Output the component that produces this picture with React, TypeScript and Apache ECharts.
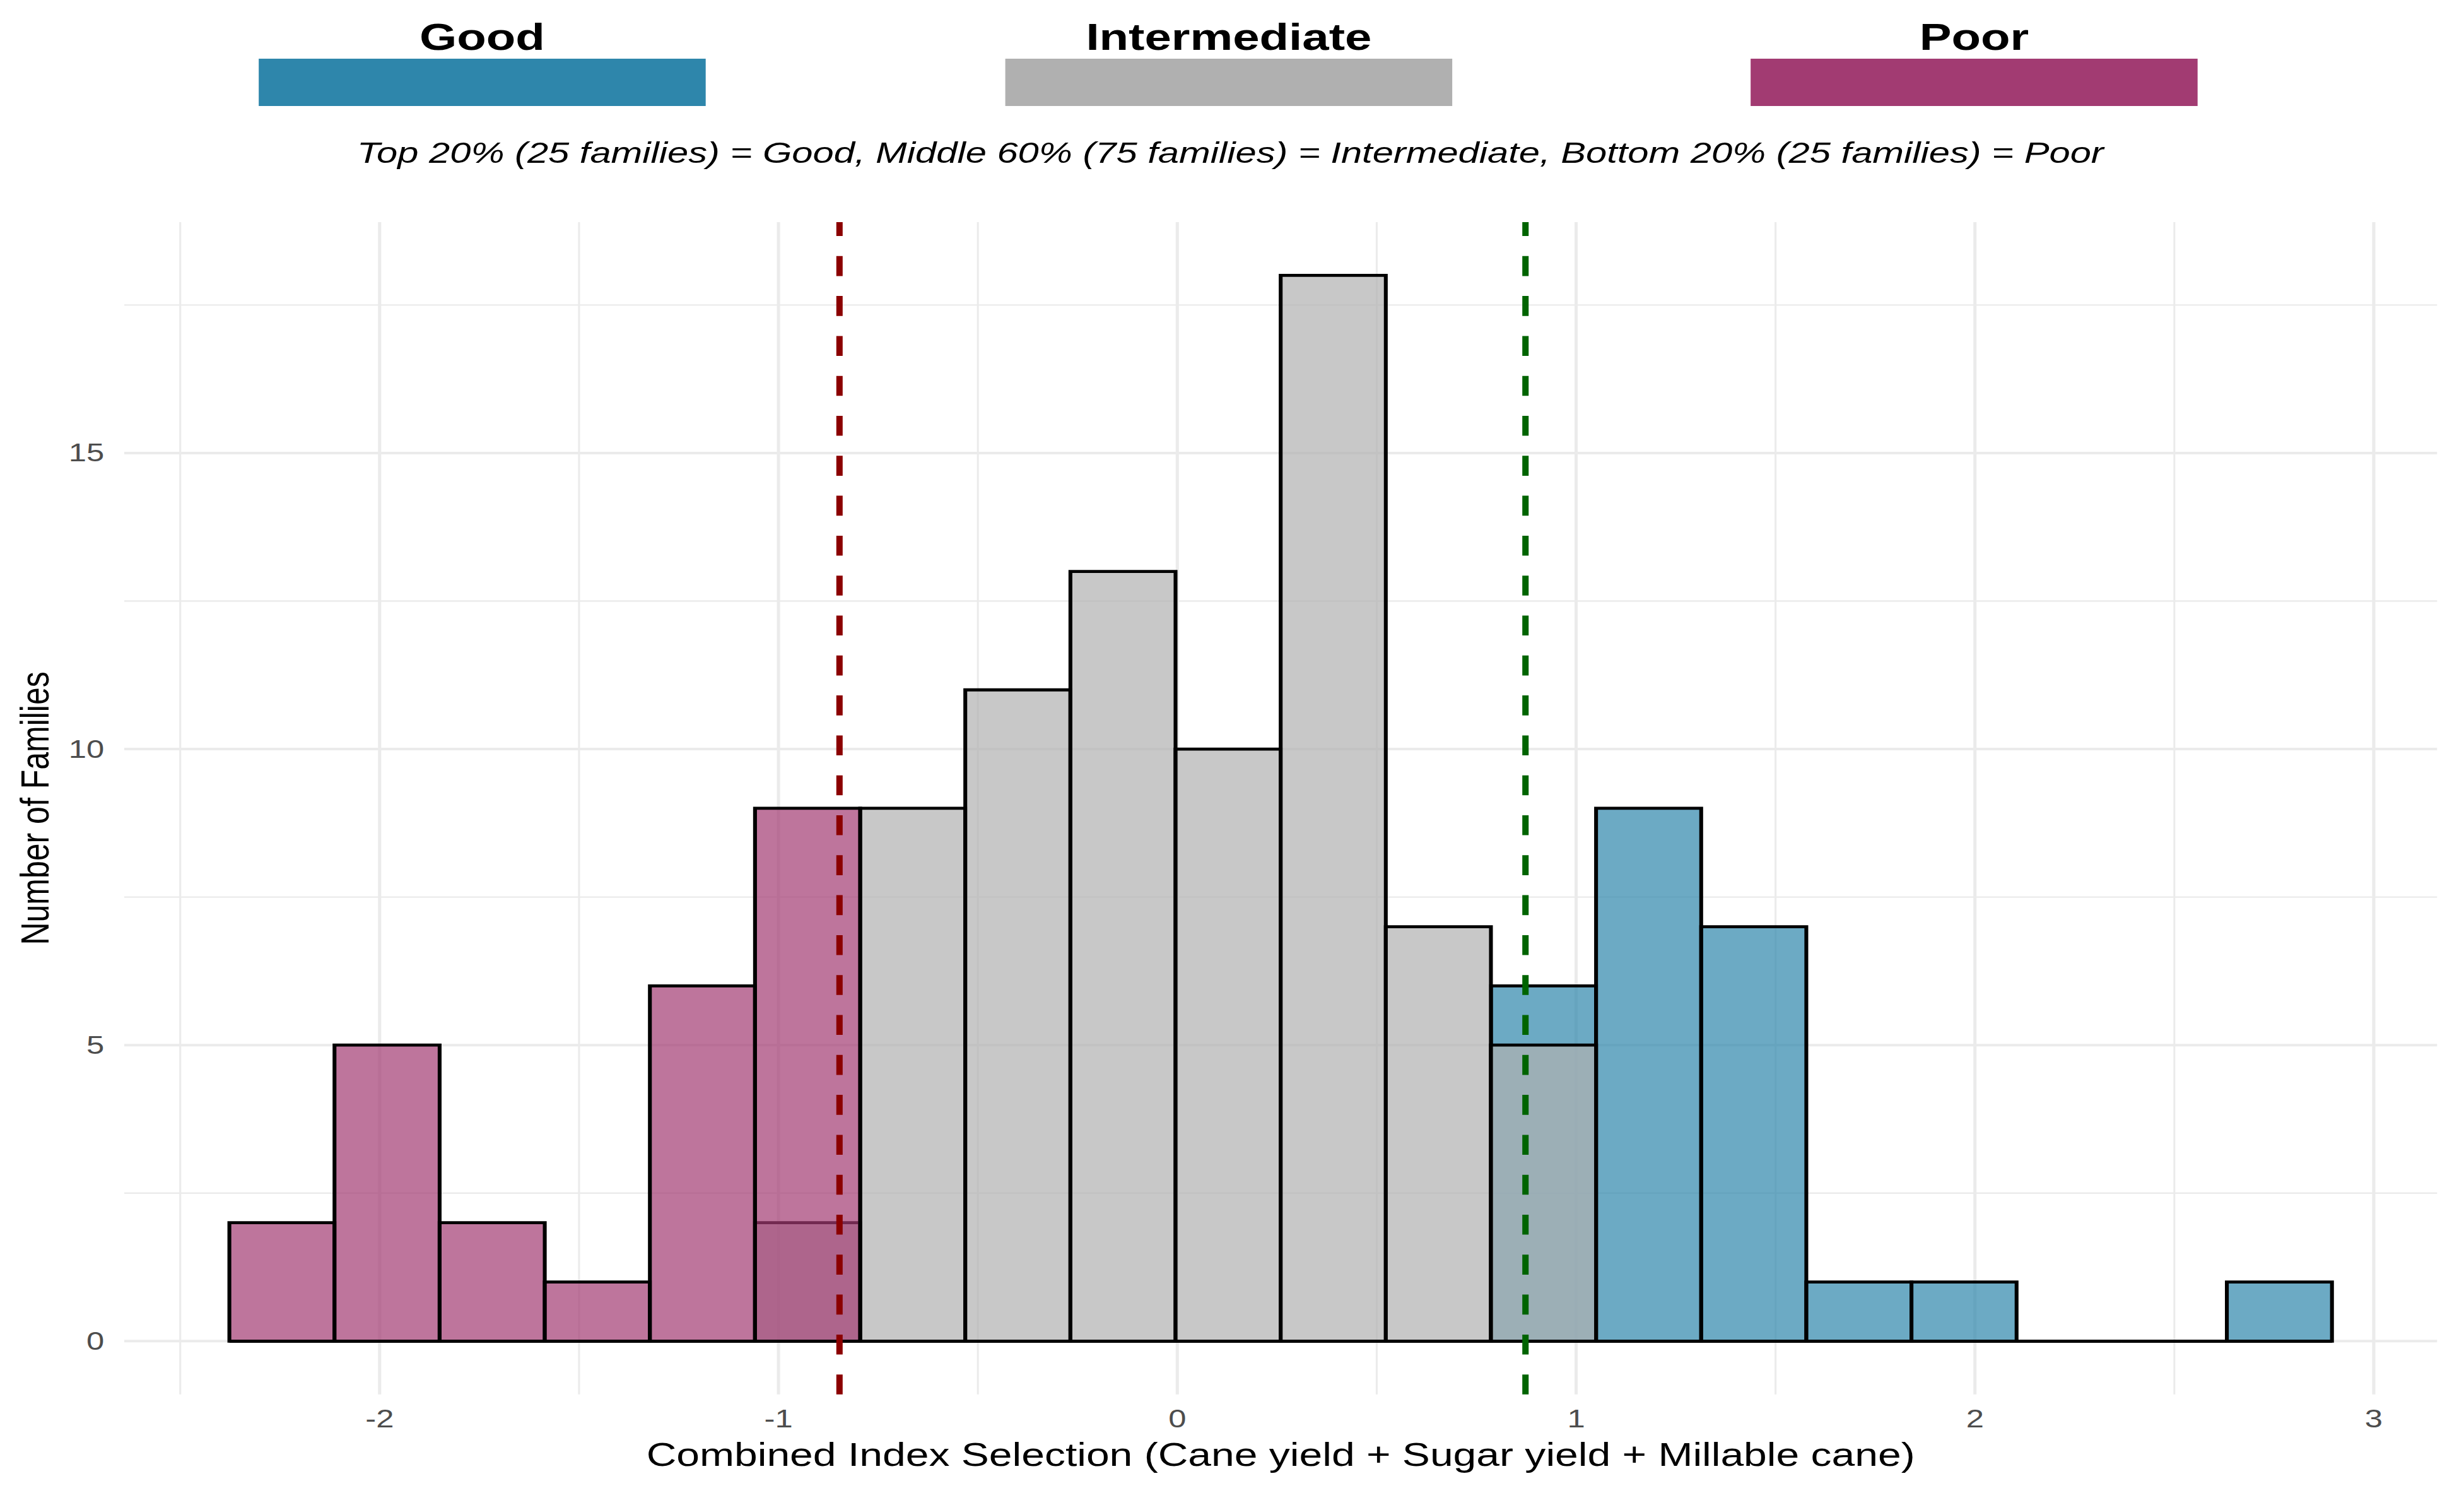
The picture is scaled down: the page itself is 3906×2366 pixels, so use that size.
import React, { useEffect, useRef } from "react";
import * as echarts from "echarts";

// ---- data ----
const GROUPS = ["Good", "Intermediate", "Poor"];
const GROUP_COLORS = ["#2E86AB", "#B0B0B0", "#A23B72"];
const BIN_START = -2.3768;
const BIN_WIDTH = 0.2636;
const GOOD_COUNTS = [0, 0, 0, 0, 0, 0, 0, 0, 0, 0, 0, 0, 6, 9, 7, 1, 1, 0, 0, 1];
const INTERMEDIATE_COUNTS = [0, 0, 0, 0, 0, 2, 9, 11, 13, 10, 18, 7, 5, 0, 0, 0, 0, 0, 0, 0];
const POOR_COUNTS = [2, 5, 2, 1, 6, 9, 0, 0, 0, 0, 0, 0, 0, 0, 0, 0, 0, 0, 0, 0];
const X_TICKS = [-2, -1, 0, 1, 2, 3];
const X_MINOR = [-2.5, -1.5, -0.5, 0.5, 1.5, 2.5];
const Y_TICKS = [0, 5, 10, 15];
const Y_MINOR = [2.5, 7.5, 12.5, 17.5];
const CUTOFFS = [-0.847, 0.873];
const CUTOFF_COLORS = ["#8B0000", "#006400"];
const SUBTITLE =
  "Top 20% (25 families) = Good, Middle 60% (75 families) = Intermediate, Bottom 20% (25 families) = Poor";
const X_TITLE = "Combined Index Selection (Cane yield + Sugar yield + Millable cane)";
const Y_TITLE = "Number of Families";

// ---- layout ----
const STRETCH = 1.2698;
const CW = 3076;
const CH = 2366;
const FONT = '"Liberation Sans", Arial, Helvetica, sans-serif';
const X_MIN = BIN_START - BIN_WIDTH;
const X_MAX = BIN_START + 21 * BIN_WIDTH;
const Y_MIN = -0.9;
const Y_MAX = 18.9;
const LEGEND_CX = [602, 1534, 2464.5];
const LEGEND_W = 558;
const BAR_LW = 4.8;

function barSeries(name: string, counts: number[], color: string, z: number) {
  const fill = echarts.color.modifyAlpha(color, 0.7);
  const data = counts.map((c, i) => [BIN_START + i * BIN_WIDTH, BIN_START + (i + 1) * BIN_WIDTH, c]);
  return {
    type: "custom",
    name,
    z,
    silent: true,
    coordinateSystem: "cartesian2d",
    encode: { x: [0, 1], y: 2 },
    data,
    renderItem: (params: any, api: any) => {
      const x0 = api.value(0);
      const x1 = api.value(1);
      const c = api.value(2);
      const a = api.coord([x0, 0]);
      const b = api.coord([x1, c]);
      if (c === 0) {
        return {
          type: "line",
          shape: { x1: a[0], y1: a[1], x2: b[0], y2: a[1] },
          style: { stroke: "#000", lineWidth: BAR_LW },
        };
      }
      return {
        type: "rect",
        shape: { x: a[0], y: b[1], width: b[0] - a[0], height: a[1] - b[1] },
        style: { fill, stroke: "#000", lineWidth: BAR_LW, lineJoin: "miter" },
      };
    },
  };
}

export default function App() {
  const ref = useRef<HTMLDivElement>(null);
  useEffect(() => {
    if (!ref.current) return;
    const chart = echarts.init(ref.current, null, { renderer: "svg" });

    const gridData: number[][] = [
      ...X_TICKS.map((v) => [v, 0, 0]),
      ...X_MINOR.map((v) => [v, 0, 1]),
      ...Y_TICKS.map((v) => [0, v, 2]),
      ...Y_MINOR.map((v) => [0, v, 3]),
    ];

    const graphic: any[] = [];
    GROUPS.forEach((g, i) => {
      graphic.push({
        type: "text",
        x: LEGEND_CX[i],
        y: 58.5,
        style: {
          text: g,
          font: `bold 60px ${FONT}`,
          fill: "#000",
          align: "center",
          verticalAlign: "middle",
          textAlign: "center",
          textVerticalAlign: "middle",
        },
      });
      graphic.push({
        type: "rect",
        shape: { x: LEGEND_CX[i] - LEGEND_W / 2, y: 93, width: LEGEND_W, height: 75 },
        style: { fill: GROUP_COLORS[i] },
      });
    });
    graphic.push({
      type: "text",
      x: 1536,
      y: 241,
      style: {
        text: SUBTITLE,
        font: `italic 47px ${FONT}`,
        fill: "#000",
        align: "center",
        verticalAlign: "middle",
        textAlign: "center",
        textVerticalAlign: "middle",
      },
    });

    const option: any = {
      animation: false,
      backgroundColor: "#ffffff",
      grid: { left: 155.1, right: 33.5, top: 352, bottom: 156.2, outerBoundsMode: "none" },
      xAxis: {
        type: "value",
        min: X_MIN,
        max: X_MAX,
        axisLine: { show: false },
        axisTick: { show: false },
        splitLine: { show: false },
        axisLabel: {
          customValues: X_TICKS,
          fontSize: 40,
          fontFamily: FONT,
          color: "#4D4D4D",
          margin: 19,
        },
        name: X_TITLE,
        nameLocation: "middle",
        nameGap: 69,
        nameTextStyle: { fontSize: 52, fontFamily: FONT, color: "#000", lineHeight: 52 },
      },
      yAxis: {
        type: "value",
        min: Y_MIN,
        max: Y_MAX,
        axisLine: { show: false },
        axisTick: { show: false },
        splitLine: { show: false },
        axisLabel: {
          customValues: Y_TICKS,
          fontSize: 40,
          fontFamily: FONT,
          color: "#4D4D4D",
          margin: 25,
        },
        name: Y_TITLE,
        nameLocation: "middle",
        nameRotate: 90,
        nameGap: 87,
        nameTextStyle: { fontSize: 50, fontFamily: FONT, color: "#000", lineHeight: 50 },
      },
      graphic,
      series: [
        {
          type: "custom",
          name: "grid",
          z: 1,
          silent: true,
          coordinateSystem: "cartesian2d",
          data: gridData,
          renderItem: (params: any, api: any) => {
            const kind = api.value(2);
            const cs = params.coordSys;
            const p = api.coord([api.value(0), api.value(1)]);
            const lw = kind === 0 || kind === 2 ? 4 : 2.4;
            if (kind < 2) {
              return {
                type: "line",
                shape: { x1: p[0], y1: cs.y, x2: p[0], y2: cs.y + cs.height },
                style: { stroke: "#EBEBEB", lineWidth: lw },
              };
            }
            return {
              type: "line",
              shape: { x1: cs.x, y1: p[1], x2: cs.x + cs.width, y2: p[1] },
              style: { stroke: "#EBEBEB", lineWidth: lw },
            };
          },
        },
        barSeries(GROUPS[0], GOOD_COUNTS, GROUP_COLORS[0], 2),
        barSeries(GROUPS[1], INTERMEDIATE_COUNTS, GROUP_COLORS[1], 3),
        barSeries(GROUPS[2], POOR_COUNTS, GROUP_COLORS[2], 4),
        {
          type: "custom",
          name: "cutoffs",
          z: 5,
          silent: true,
          coordinateSystem: "cartesian2d",
          data: CUTOFFS.map((v) => [v, 0]),
          renderItem: (params: any, api: any) => {
            const cs = params.coordSys;
            const p = api.coord([api.value(0), 0]);
            return {
              type: "line",
              shape: { x1: p[0], y1: cs.y + cs.height, x2: p[0], y2: cs.y },
              style: {
                stroke: CUTOFF_COLORS[params.dataIndex],
                lineWidth: 7.9,
                lineDash: [31.6, 31.7],
                lineCap: "butt",
              },
            };
          },
        },
      ],
    };
    chart.setOption(option);
    return () => chart.dispose();
  }, []);

  return (
    <div
      ref={ref}
      style={{
        position: "fixed",
        left: 0,
        top: 0,
        width: CW,
        height: CH,
        transform: `scaleX(${STRETCH})`,
        transformOrigin: "0 0",
        background: "#fff",
      }}
    />
  );
}
